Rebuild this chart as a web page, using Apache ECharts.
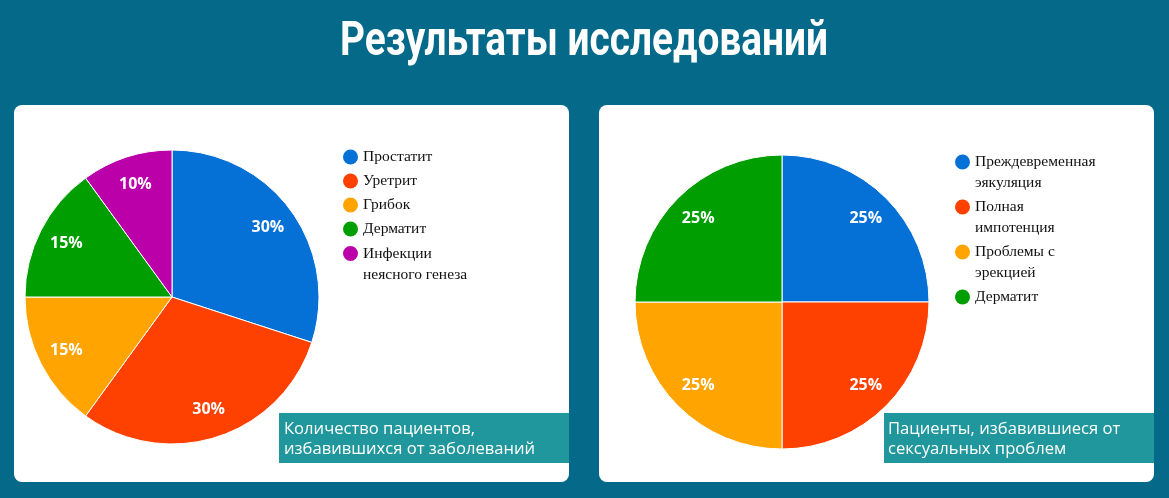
<!DOCTYPE html>
<html>
<head>
<meta charset="utf-8">
<script src="https://cdn.jsdelivr.net/npm/echarts@6/dist/echarts.min.js"></script>
<style>
html,body{margin:0;padding:0;background:#05698a;}
#c{width:1169px;height:498px;}
</style>
</head>
<body>
<div id="c"></div>
<script>
// ---- data ----
var titleText = 'Результаты исследований';
var leftNames = ['Простатит', 'Уретрит', 'Грибок', 'Дерматит', 'Инфекции\nнеясного генеза'];
var leftValues = [30, 30, 15, 15, 10];
var leftCaption = 'Количество пациентов,\nизбавившихся от заболеваний';
var rightNames = ['Преждевременная\nэякуляция', 'Полная\nимпотенция', 'Проблемы с\nэрекцией', 'Дерматит'];
var rightValues = [25, 25, 25, 25];
var rightCaption = 'Пациенты, избавившиеся от\nсексуальных проблем';
var leftColors = ['#0570d6', '#fe4000', '#ffa400', '#009e00', '#bb00aa'];
var rightColors = ['#0570d6', '#fe4000', '#ffa400', '#009e00'];

function toData(names, values) {
  return names.map(function (n, i) { return { name: n, value: values[i] }; });
}

var chart = echarts.init(document.getElementById('c'), null, { renderer: 'canvas' });

var legendFont = { fontFamily: '"Liberation Serif", "Times New Roman", serif', fontSize: 15.5, color: '#111' };
var tallIcon = 'path://M7.5,0A7.5,7.5,0,1,1,7.5,15A7.5,7.5,0,1,1,7.5,0ZM0,36L0,36Z';

function mkLegend(left, top, data, twoLine, gap) {
  return {
    left: left, top: top, orient: 'vertical', padding: 0,
    itemWidth: 15, itemHeight: twoLine ? 36 : 15, itemGap: gap,
    icon: twoLine ? tallIcon : 'circle',
    itemStyle: { borderWidth: 0 },
    selectedMode: false,
    data: data,
    textStyle: Object.assign({ lineHeight: twoLine ? 21 : 24 }, legendFont)
  };
}

function pieSeries(data, colors, cx, cy) {
  return {
    type: 'pie', center: [cx, cy], radius: 147, startAngle: 90, clockwise: true,
    data: data, color: colors, silent: true, animation: false,
    itemStyle: { borderColor: '#fff', borderWidth: 1 },
    label: { show: false }, labelLine: { show: false },
    emphasis: { disabled: true }
  };
}
function labelSeries(data, cx, cy) {
  return {
    type: 'pie', center: [cx, cy], radius: [84, 147], startAngle: 90, clockwise: true,
    data: data, silent: true, animation: false,
    itemStyle: { color: 'rgba(0,0,0,0)', borderWidth: 0 },
    label: {
      show: true, position: 'inside', formatter: '{d}%', color: '#fff',
      fontFamily: '"Open Sans", "Noto Sans", sans-serif', fontWeight: 'bold', fontSize: 16
    },
    labelLine: { show: false }, emphasis: { disabled: true }
  };
}

var capFont = '16.6px "Open Sans", "Noto Sans", sans-serif';

// condensed title: measure and squeeze horizontally
var titleFont = 'bold 48px Roboto, "DejaVu Sans", sans-serif';
var mctx = document.createElement('canvas').getContext('2d');
mctx.font = titleFont;
var titleW = mctx.measureText(titleText).width;
var titleScale = 488 / titleW;

var option = {
  backgroundColor: '#05698a',
  animation: false,
  graphic: [
    { type: 'text', z: 20, x: 584, y: 43, scaleX: titleScale,
      style: { text: titleText, fill: '#fff', font: titleFont, align: 'center', verticalAlign: 'middle' } },
    { type: 'rect', z: -10, shape: { x: 14, y: 105, width: 555, height: 377, r: 8 }, style: { fill: '#fff' } },
    { type: 'rect', z: -10, shape: { x: 599, y: 105, width: 555, height: 377, r: 8 }, style: { fill: '#fff' } },
    { type: 'rect', z: 10, shape: { x: 279, y: 413, width: 290, height: 50 }, style: { fill: '#20979c' } },
    { type: 'rect', z: 10, shape: { x: 884, y: 413, width: 270, height: 50 }, style: { fill: '#20979c' } },
    { type: 'text', z: 11, x: 284, y: 419, style: { text: leftCaption, fill: '#fff', font: capFont, lineHeight: 20 } },
    { type: 'text', z: 11, x: 888, y: 419, style: { text: rightCaption, fill: '#fff', font: capFont, lineHeight: 20 } }
  ],
  legend: [
    mkLegend(343, 145, leftNames.slice(0, 4), false, 0),
    mkLegend(343, 243, leftNames.slice(4), true, 0),
    mkLegend(955, 151.5, rightNames.slice(0, 3), true, 3),
    mkLegend(955, 285, rightNames.slice(3), false, 0)
  ],
  series: [
    pieSeries(toData(leftNames, leftValues), leftColors, 172, 297),
    pieSeries(toData(rightNames, rightValues), rightColors, 782, 302),
    labelSeries(toData(leftNames, leftValues), 172, 297),
    labelSeries(toData(rightNames, rightValues), 782, 302)
  ]
};
chart.setOption(option);
</script>
</body>
</html>
